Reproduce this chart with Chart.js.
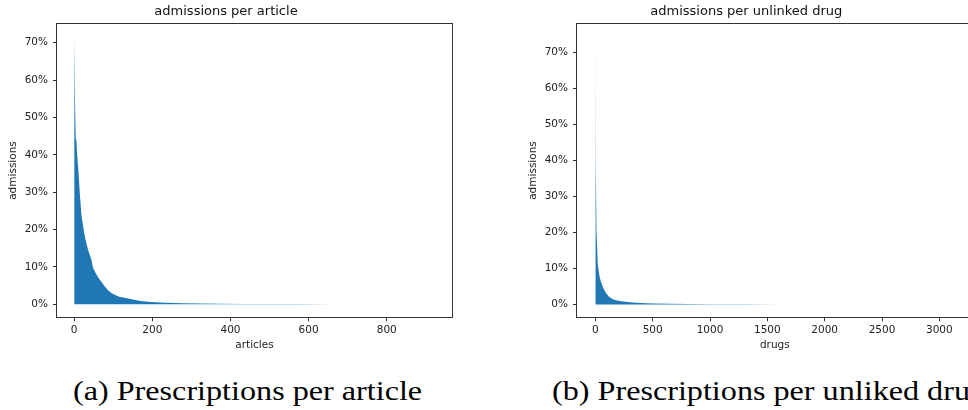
<!DOCTYPE html>
<html>
<head>
<meta charset="utf-8">
<script src="https://cdn.jsdelivr.net/npm/chart.js@4"></script>
<style>
  html, body { margin: 0; padding: 0; background: #fff; overflow: hidden; }
  body { width: 968px; height: 410px; position: relative; }
  canvas { position: absolute; top: 0; }
  .caption {
    position: absolute;
    top: 378px;
    font-family: "Liberation Serif", serif;
    font-size: 27px;
    line-height: 27px;
    white-space: nowrap;
    color: #000;
    transform-origin: left top;
  }
</style>
</head>
<body>
<canvas id="articleChart" width="480" height="360" style="left:0px"></canvas>
<canvas id="drugChart" width="480" height="360" style="left:520px"></canvas>
<div class="caption" id="capA">(a) Prescriptions per article</div>
<div class="caption" id="capB">(b) Prescriptions per unliked drugs</div>

<script>
// admissions share per article, sorted
const articleX     = [0, 1, 2, 3, 4, 6, 7, 9, 11, 13, 15, 17, 19, 22, 25, 28, 32, 36, 40, 44, 48, 52, 58, 64, 70, 78, 86, 95, 105, 115, 125, 135, 150, 170, 195, 220, 250, 280, 320, 370, 430, 500, 580, 660, 750, 850, 920];
const articleShare = [71.4, 63.0, 58.0, 49.0, 44.5, 43.5, 41.0, 38.0, 35.5, 32.0, 28.8, 26.0, 23.5, 21.5, 19.5, 17.8, 16.0, 14.4, 13.2, 12.0, 9.8, 9.0, 7.8, 6.8, 6.0, 4.8, 3.8, 3.0, 2.5, 2.0, 1.8, 1.6, 1.3, 0.9, 0.6, 0.45, 0.35, 0.27, 0.2, 0.14, 0.1, 0.07, 0.05, 0.03, 0.02, 0.01, 0.005];

// admissions share per unlinked drug, sorted
const drugX     = [0, 1, 2, 4, 6, 8, 10, 12, 15, 18, 23, 30, 38, 50, 66, 80, 96, 115, 140, 170, 212, 260, 327, 400, 500, 650, 800, 1000, 1300, 1600, 1900, 2300, 2700, 3100];
const drugShare = [74.0, 58.0, 50.0, 40.0, 33.0, 29.0, 27.0, 20.0, 16.5, 14.0, 11.5, 9.2, 7.6, 6.2, 4.9, 3.9, 3.1, 2.3, 1.7, 1.3, 1.0, 0.78, 0.58, 0.42, 0.3, 0.2, 0.13, 0.09, 0.06, 0.04, 0.025, 0.015, 0.01, 0.005];

// tick labels
const articleTicks = [0, 200, 400, 600, 800];
const drugTicks = [0, 500, 1000, 1500, 2000, 2500, 3000];
const shareTicks = [0, 10, 20, 30, 40, 50, 60, 70];

Chart.defaults.font.family = "'DejaVu Sans', sans-serif";
Chart.defaults.color = '#222';

// matplotlib style box round the plot area
const framePlugin = {
  id: 'frame',
  afterDraw(chart) {
    const a = chart.chartArea;
    const ctx = chart.ctx;
    const l = Math.round(a.left), t = Math.round(a.top);
    const r = Math.round(a.right), b = Math.round(a.bottom);
    ctx.save();
    ctx.strokeStyle = '#333';
    ctx.lineWidth = 1;
    ctx.strokeRect(l - 0.5, t - 0.5, r - l + 1, b - t + 1);
    ctx.restore();
  }
};

function fixedTicks(values) {
  return scale => { scale.ticks = values.map(v => ({ value: v })); };
}

function makeChart(id, title, xLabel, xs, ys, xMin, xMax, xTicks, yMin, yMax, padRight) {
  const points = xs.map((x, i) => ({ x: x, y: ys[i] }));
  return new Chart(document.getElementById(id), {
    type: 'line',
    data: {
      datasets: [{
        data: points,
        fill: 'origin',
        backgroundColor: '#1f77b4',
        borderWidth: 0,
        pointRadius: 0,
        tension: 0
      }]
    },
    options: {
      responsive: false,
      animation: false,
      layout: { padding: { left: 0, top: 0, right: padRight, bottom: 0 } },
      plugins: {
        legend: { display: false },
        tooltip: { enabled: false },
        title: {
          display: true,
          text: title,
          color: '#111',
          font: { size: 13, weight: 'normal' },
          padding: { top: 3.5, bottom: 4.6 }
        }
      },
      scales: {
        x: {
          type: 'linear',
          min: xMin,
          max: xMax,
          border: { display: false },
          grid: { drawOnChartArea: false, drawTicks: true, tickLength: 4, color: '#333' },
          ticks: {
            autoSkip: false,
            maxRotation: 0,
            padding: 3,
            font: { size: 10.5 },
            callback: v => String(v)
          },
          afterBuildTicks: fixedTicks(xTicks),
          title: { display: true, text: xLabel, font: { size: 10.5 }, padding: { top: 0, bottom: 8.7 } },
          afterFit: s => { s.height = 42.7; }
        },
        y: {
          min: yMin,
          max: yMax,
          border: { display: false },
          grid: { drawOnChartArea: false, drawTicks: true, tickLength: 4, color: '#333' },
          ticks: {
            autoSkip: false,
            padding: 5,
            font: { size: 10.5 },
            callback: v => v + '%'
          },
          afterBuildTicks: fixedTicks(shareTicks),
          title: { display: true, text: 'admissions', font: { size: 10.5 }, padding: { top: 7, bottom: 0 } },
          afterFit: s => { s.width = 57; }
        }
      }
    },
    plugins: [framePlugin]
  });
}

makeChart('articleChart', 'admissions per article', 'articles',
  articleX, articleShare, -44, 967, articleTicks, -3.48, 75.09, 28);
makeChart('drugChart', 'admissions per unlinked drug', 'drugs',
  drugX, drugShare, -160, 3290, drugTicks, -3.53, 77.94, 27.4);

// stretch the captions to the width of the reference serif font
function placeCaption(id, centre, scale) {
  const el = document.getElementById(id);
  const w = el.offsetWidth * scale;
  el.style.left = (centre - w / 2) + 'px';
  el.style.transform = 'scaleX(' + scale + ')';
}
const capScale = 349 / document.getElementById('capA').offsetWidth;
placeCaption('capA', 247.2, capScale);
placeCaption('capB', 775, capScale);
</script>
</body>
</html>
